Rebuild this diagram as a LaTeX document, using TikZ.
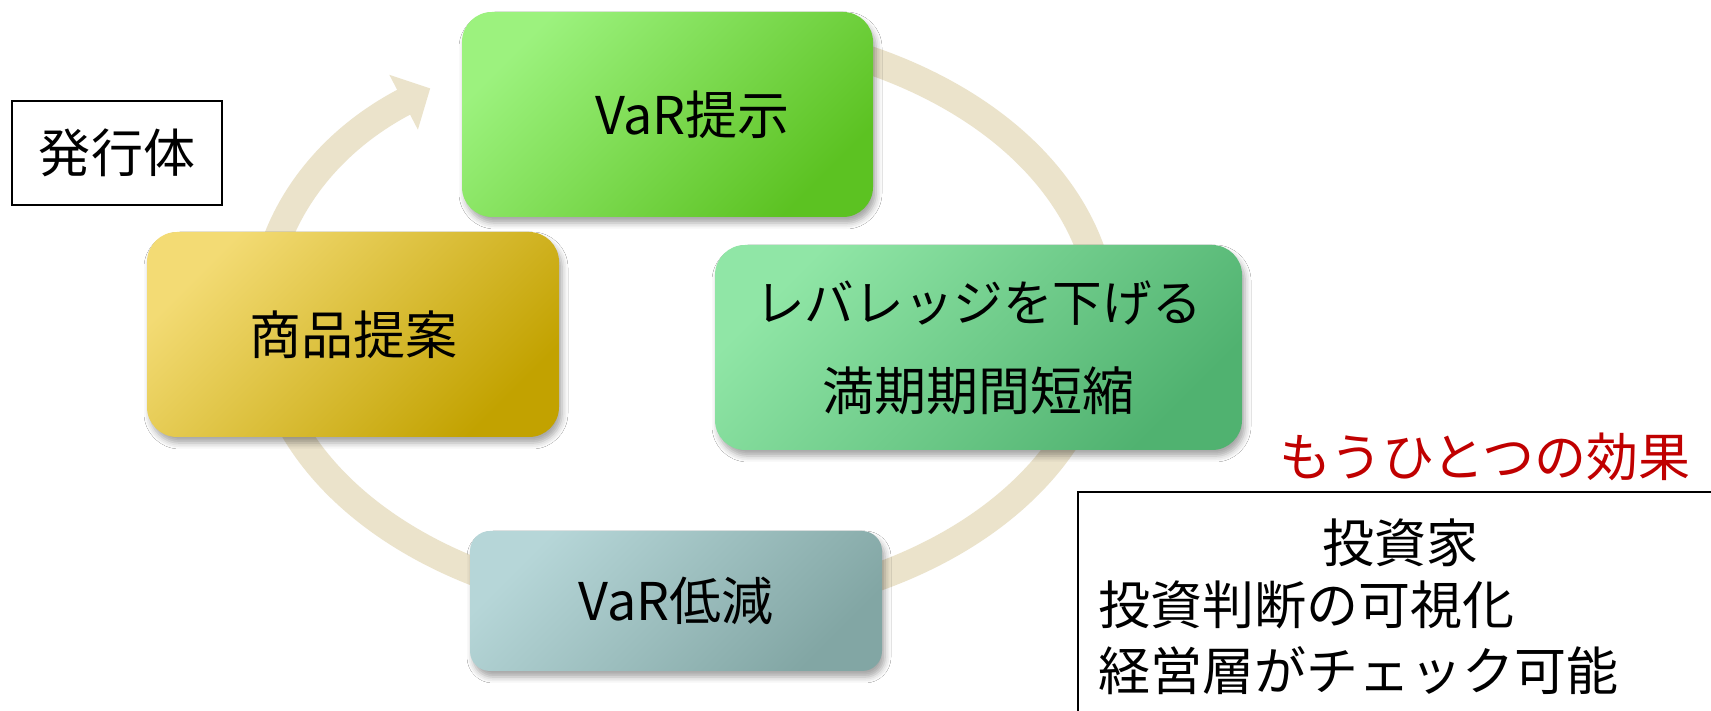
\documentclass[tikz,border=0pt]{standalone}
\usepackage{fontspec}
\setmainfont{Noto Sans CJK JP}
\usetikzlibrary{arrows.meta,shadows.blur}
\definecolor{ringc}{HTML}{EBE3CB}
\definecolor{gA}{HTML}{9CF27E}
\definecolor{gB}{HTML}{5CC222}
\definecolor{yA}{HTML}{F3DB74}
\definecolor{yB}{HTML}{C2A200}
\definecolor{mA}{HTML}{90E6A6}
\definecolor{mB}{HTML}{50B270}
\definecolor{tA}{HTML}{B6D6D8}
\definecolor{tB}{HTML}{82A6A4}
\definecolor{redt}{HTML}{C00000}
\begin{document}
\begin{tikzpicture}[x=0.5pt,y=0.5pt,
  txt/.style={font=\fontsize{26}{32}\selectfont, inner sep=0pt},
  card/.style={rounded corners=15pt, inner sep=0pt, align=center,
    font=\fontsize{26}{44.5}\selectfont,
    blur shadow={shadow xshift=1.5pt, shadow yshift=-3pt, shadow blur radius=3pt, shadow opacity=35}},
  ring/.style={draw=ringc, line width=14pt, -{Triangle[width=30pt,length=15pt]}},
  plainbox/.style={draw=black, line width=1pt, inner sep=0pt}]
\useasboundingbox (0,0) rectangle (1711,711);
\clip (0,0) rectangle (1711,711);
\fill[white] (0,0) rectangle (1711,711);
% cycle ring
\coordinate (c) at (683,391);
\coordinate (s) at ([shift={(110:420 and 290)}]c);
\draw[ring] (s) arc[start angle=110, end angle=-233, x radius=210pt, y radius=145pt];
% cards
\node[card, left color=gA, right color=gB, shading angle=45,
  minimum width=205.5pt, minimum height=102.5pt] (var) at (667.5,596.5) {\hspace*{25pt}VaR提示};
\node[card, left color=yA, right color=yB, shading angle=45,
  minimum width=206pt, minimum height=102.5pt] (prod) at (353,376.5) {商品提案};
\node[card, left color=mA, right color=mB, shading angle=45,
  minimum width=263.5pt, minimum height=102.5pt] (lev) at (978.5,363.5) {{\fontsize{24.8}{44.5}\selectfont レバレッジを下げる}\\満期期間短縮};
\node[card, rounded corners=10pt, left color=tA, right color=tB, shading angle=45,
  minimum width=206pt, minimum height=70pt] (red) at (676,110) {VaR低減};
% issuer
\node[plainbox, txt, minimum width=105pt, minimum height=52pt] (iss) at (117,558) {発行体};
% another effect
\node[txt, text=redt] (eff) at (1485,254) {もうひとつの効果};
\node[plainbox, anchor=north west, minimum width=350pt, minimum height=130pt] (invbox) at (1077,220) {};
\node[txt] (inv1) at (1400,168) {投資家};
\node[txt, anchor=west] (inv2) at (1098,106) {投資判断の可視化};
\node[txt, anchor=west] (inv3) at (1098,40) {経営層がチェック可能};
\end{tikzpicture}
\end{document}
